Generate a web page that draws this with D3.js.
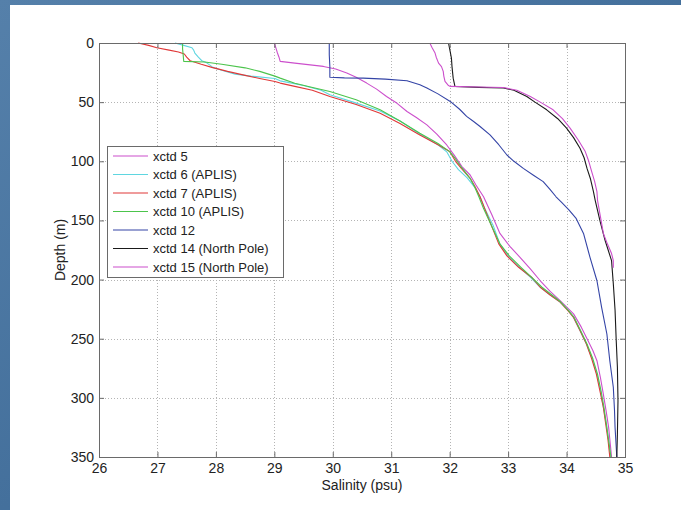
<!DOCTYPE html>
<html>
<head>
<meta charset="utf-8">
<script src="https://cdn.jsdelivr.net/npm/d3@7"></script>
<style>
  html, body { margin: 0; padding: 0; background: #4a76a2; }
  svg { display: block; }
  text { font-family: "Liberation Sans", Arial, sans-serif; fill: #222; }
</style>
</head>
<body>
<svg id="chart" width="681" height="510"></svg>
<script>
// Salinity profiles, each point is [salinity (psu), depth (m)]
const xctd5 = [[29.0,0],[29.02,3],[29.05,8],[29.08,12],[29.1,15.5],[29.35,17],[29.84,19.8],[30.05,22],[30.24,25.4],[30.4,29],[30.58,33.9],[30.75,39],[30.92,45.2],[31.1,51],[31.27,57.9],[31.43,63],[31.61,69.2],[31.78,77],[31.95,86.2],[32.08,95],[32.21,104.5],[32.35,111.6],[32.45,120],[32.58,130],[32.72,145],[32.86,161],[33.03,172],[33.2,181],[33.38,191],[33.55,201],[33.72,210],[33.89,217.8],[34.12,229],[34.25,240],[34.34,249],[34.45,260],[34.52,268.6],[34.58,283],[34.63,297],[34.68,312],[34.72,325],[34.75,340],[34.77,350]];
const xctd6 = [[27.3,0],[27.45,2],[27.59,4],[27.62,6],[27.64,8.5],[27.7,12],[27.76,15],[27.85,17],[27.95,20.6],[28.1,23],[28.33,26.3],[28.6,28],[29.01,30],[29.1,32],[29.5,36],[29.8,40],[29.95,43.8],[30.35,50],[30.81,57.5],[31.15,66],[31.49,77],[31.8,86],[31.95,92],[32.04,100],[32.15,107],[32.3,114],[32.43,122],[32.52,130],[32.6,140],[32.75,155],[32.86,170],[33.0,180],[33.2,190],[33.38,198],[33.55,206.5],[33.72,213],[33.89,219],[34.03,226],[34.12,232],[34.23,243],[34.34,254.5],[34.44,267],[34.52,280],[34.58,294],[34.63,308],[34.68,322],[34.72,336],[34.75,350]];
const xctd7 = [[26.67,0],[26.85,2],[26.99,4],[27.2,6],[27.36,7.6],[27.46,9.3],[27.5,12],[27.56,15],[27.75,18],[27.93,20.6],[28.2,24],[28.5,27.4],[28.75,30],[29.01,32.5],[29.1,33.9],[29.35,36.7],[29.65,40],[29.95,45.2],[30.4,52],[30.81,59.3],[31.15,68],[31.49,77.7],[31.8,86],[32.0,91.8],[32.1,100],[32.2,106],[32.35,114.4],[32.44,122],[32.52,130],[32.6,140],[32.72,155],[32.84,169.8],[32.98,180],[33.18,189.6],[33.4,198],[33.55,206.5],[33.72,213],[33.89,219],[34.02,226],[34.12,232],[34.23,243],[34.34,254.5],[34.43,267],[34.51,280],[34.57,294],[34.63,308],[34.67,322],[34.71,336],[34.74,350]];
const xctd10 = [[27.43,0],[27.43,5],[27.44,10],[27.45,15.5],[27.81,16],[28.1,18],[28.5,21],[28.75,24],[29.01,28],[29.1,29.7],[29.35,34],[29.6,37],[29.95,41],[30.4,48],[30.81,56.5],[31.15,66],[31.49,76.3],[31.8,85],[32.0,91.8],[32.1,98],[32.2,105],[32.35,114.4],[32.43,122],[32.5,130],[32.58,140],[32.72,155],[32.86,169.8],[33.02,180],[33.22,189.6],[33.4,198],[33.58,206.5],[33.75,213],[33.9,219],[34.03,226],[34.13,232],[34.24,243],[34.35,254.5],[34.45,267],[34.53,280],[34.59,294],[34.64,308],[34.68,322],[34.72,336],[34.76,350]];
const xctd12 = [[29.94,0],[29.94,10],[29.95,20],[29.95,29],[30.2,29.5],[30.52,29.7],[30.9,30.5],[31.27,31.9],[31.49,35.3],[31.61,38],[31.8,43],[32.01,49.4],[32.17,56],[32.29,62],[32.41,66.4],[32.52,70.6],[32.69,77.7],[32.84,86],[32.98,94.7],[33.1,100],[33.26,106],[33.44,112],[33.6,117.2],[33.72,124],[33.82,130],[33.92,135],[34.04,141],[34.16,148],[34.29,161],[34.4,181],[34.52,201],[34.6,223.5],[34.69,246],[34.74,268.6],[34.8,291],[34.82,310],[34.83,325],[34.86,350]];
const xctd14 = [[31.98,0],[32.0,5],[32.03,12.7],[32.04,20],[32.06,29.7],[32.09,36.7],[32.5,37.5],[32.92,38],[33.1,40],[33.32,45.2],[33.46,50],[33.66,56.5],[33.85,64],[34.0,72],[34.12,80],[34.23,89],[34.3,97],[34.35,106],[34.41,115],[34.46,125.7],[34.49,133],[34.57,150],[34.66,167],[34.77,184],[34.8,203.6],[34.83,226],[34.85,251.7],[34.87,274],[34.88,302.5],[34.87,330.8],[34.86,350]];
const xctd15 = [[31.66,0],[31.7,4],[31.75,8.5],[31.77,12],[31.81,17],[31.86,20],[31.89,24],[31.9,28],[31.92,32.5],[31.98,36],[32.01,36.7],[32.5,37.2],[32.92,37.6],[33.15,40],[33.38,45.2],[33.55,50],[33.77,56.5],[33.93,64],[34.06,72],[34.2,82],[34.32,91.8],[34.38,100],[34.43,108.7],[34.48,117],[34.52,125.7],[34.53,133],[34.58,147],[34.63,161],[34.7,170],[34.77,178],[34.8,184],[34.8,190]];

const seriesNames = ["xctd 5", "xctd 6 (APLIS)", "xctd 7 (APLIS)", "xctd 10 (APLIS)", "xctd 12", "xctd 14 (North Pole)", "xctd 15 (North Pole)"];
const seriesData = [xctd5, xctd6, xctd7, xctd10, xctd12, xctd14, xctd15];
const seriesColors = ["#cc4fcc", "#5fd6e0", "#e03838", "#4cc44c", "#3444a6", "#1a1a1a", "#cc4fcc"];

const salinityTicks = [26, 27, 28, 29, 30, 31, 32, 33, 34, 35];
const depthTicks = [0, 50, 100, 150, 200, 250, 300, 350];

const svg = d3.select("#chart");

// slide backdrop and white panel
const defs = svg.append("defs");
const grad = defs.append("linearGradient").attr("id", "bg").attr("x1", 0).attr("y1", 0).attr("x2", 1).attr("y2", 1);
grad.append("stop").attr("offset", "0%").attr("stop-color", "#5580aa");
grad.append("stop").attr("offset", "50%").attr("stop-color", "#44709c");
grad.append("stop").attr("offset", "100%").attr("stop-color", "#3d6994");
svg.append("rect").attr("width", 681).attr("height", 510).attr("fill", "url(#bg)");
svg.append("rect").attr("x", 10).attr("y", 5).attr("width", 671).attr("height", 505).attr("fill", "#ffffff");

const plotLeft = 99, plotRight = 625, plotTop = 43, plotBottom = 457;
const x = d3.scaleLinear().domain([26, 35]).range([plotLeft, plotRight]);
const y = d3.scaleLinear().domain([0, 350]).range([plotTop, plotBottom]);

// grid
const grid = svg.append("g").attr("stroke", "#b4b4b4").attr("stroke-width", 1).attr("stroke-dasharray", "1,2");
grid.selectAll("line.gx").data(salinityTicks.slice(1, -1)).join("line")
  .attr("x1", d => Math.round(x(d)) + 0.5).attr("x2", d => Math.round(x(d)) + 0.5)
  .attr("y1", plotTop).attr("y2", plotBottom);
grid.selectAll("line.gy").data(depthTicks.slice(1, -1)).join("line")
  .attr("y1", d => Math.round(y(d)) + 0.5).attr("y2", d => Math.round(y(d)) + 0.5)
  .attr("x1", plotLeft).attr("x2", plotRight);

// profiles
const line = d3.line().x(d => x(d[0])).y(d => y(d[1]));
const plot = svg.append("g");
seriesData.forEach((data, i) => {
  plot.append("path").datum(data)
    .attr("fill", "none")
    .attr("stroke", seriesColors[i])
    .attr("stroke-width", 1.1)
    .attr("stroke-linejoin", "round")
    .attr("d", line);
});

// axes with inward ticks on all four sides
const axisStyle = g => {
  g.selectAll("path.domain").remove();
  g.selectAll(".tick line").attr("stroke", "#6a6a6a");
  g.selectAll(".tick text").attr("fill", "#222").style("font-size", "14px")
    .style("font-family", '"Liberation Sans", Arial, sans-serif');
};
svg.append("g").attr("transform", `translate(0,${plotBottom})`)
  .call(d3.axisBottom(x).tickValues(salinityTicks).tickFormat(d3.format("d")).tickSizeInner(-5).tickSizeOuter(0).tickPadding(6))
  .call(axisStyle);
svg.append("g").attr("transform", `translate(0,${plotTop})`)
  .call(d3.axisTop(x).tickValues(salinityTicks).tickFormat("").tickSizeInner(-5).tickSizeOuter(0))
  .call(axisStyle);
svg.append("g").attr("transform", `translate(${plotLeft},0)`)
  .call(d3.axisLeft(y).tickValues(depthTicks).tickFormat(d3.format("d")).tickSizeInner(-5).tickSizeOuter(0).tickPadding(5))
  .call(axisStyle);
svg.append("g").attr("transform", `translate(${plotRight},0)`)
  .call(d3.axisRight(y).tickValues(depthTicks).tickFormat("").tickSizeInner(-5).tickSizeOuter(0))
  .call(axisStyle);

svg.append("rect").attr("x", plotLeft + 0.5).attr("y", plotTop + 0.5)
  .attr("width", plotRight - plotLeft).attr("height", plotBottom - plotTop)
  .attr("fill", "none").attr("stroke", "#6a6a6a").attr("stroke-width", 1);

// axis titles
svg.append("text").attr("x", (plotLeft + plotRight) / 2).attr("y", 490)
  .attr("text-anchor", "middle").style("font-size", "14px").text("Salinity (psu)");
svg.append("text").attr("transform", `translate(65,${(plotTop + plotBottom) / 2}) rotate(-90)`)
  .attr("text-anchor", "middle").style("font-size", "14px").text("Depth (m)");

// legend
const lg = svg.append("g").attr("transform", "translate(107,146)");
lg.append("rect").attr("x", 0.5).attr("y", 0.5).attr("width", 176).attr("height", 131)
  .attr("fill", "#fff").attr("stroke", "#6a6a6a");
seriesNames.forEach((name, i) => {
  const cy = 10 + i * 18.5;
  lg.append("line").attr("x1", 6).attr("x2", 41).attr("y1", cy).attr("y2", cy)
    .attr("stroke", seriesColors[i]).attr("stroke-width", 1.1);
  lg.append("text").attr("x", 46).attr("y", cy + 4.5).style("font-size", "13px").text(name);
});
</script>
</body>
</html>
